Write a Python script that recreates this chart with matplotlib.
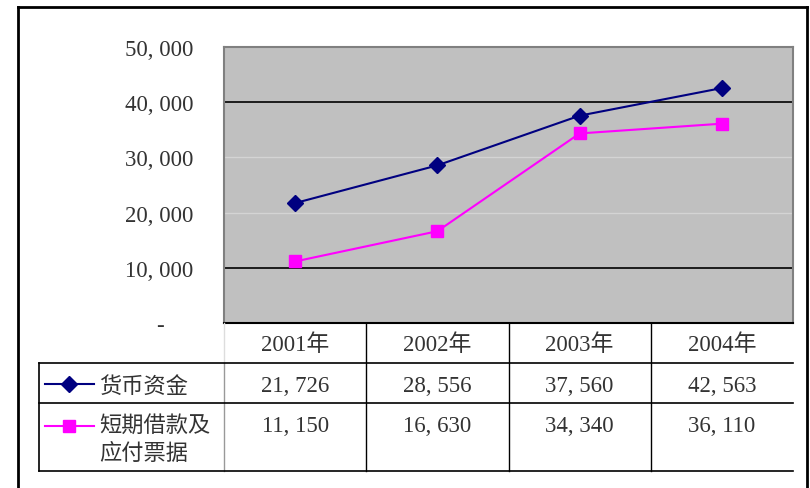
import matplotlib
matplotlib.use("Agg")
import matplotlib.pyplot as plt
from matplotlib.lines import Line2D
from matplotlib.transforms import blended_transform_factory

plt.rcParams['font.family'] = ['Liberation Serif', 'Noto Sans CJK SC', 'DejaVu Sans']

years = ["2001年", "2002年", "2003年", "2004年"]
cash = [21726, 28556, 37560, 42563]
loans = [11150, 16630, 34340, 36110]
series_names = ["货币资金", "短期借款及\n应付票据"]
yticks = [0, 10000, 20000, 30000, 40000, 50000]
ytick_labels = ["-     ", "10, 000", "20, 000", "30, 000", "40, 000", "50, 000"]

W, H = 810, 489
fig = plt.figure(figsize=(W / 100, H / 100), dpi=100)
txt = "#333333"


def fx(x):
    return x / W


def fy(y):
    return 1 - y / H


def hline(x0, x1, y, color="black", lw=1.0):
    fig.add_artist(Line2D([fx(x0), fx(x1)], [fy(y), fy(y)], color=color, lw=lw))


def vline(x, y0, y1, color="black", lw=1.0):
    fig.add_artist(Line2D([fx(x), fx(x)], [fy(y0), fy(y1)], color=color, lw=lw))


# plot area in pixels
L, R, T, B = 224, 793, 48, 324
ax = fig.add_axes([fx(L), fy(B), fx(R - L), (B - T) / H])
ax.set_facecolor("#c0c0c0")
x = list(range(len(years)))

for v in [20000, 30000]:
    ax.axhline(v, color="#d4d4d4", lw=1.0, zorder=1)
for v in [10000, 40000]:
    ax.axhline(v, color="black", lw=1.2, zorder=1)

ax.plot(x, cash, color="#000080", lw=1.5, marker="D", markersize=8, zorder=3)
ax.plot(x, loans, color="#ff00ff", lw=1.5, marker="s", markersize=8, zorder=3)

ax.set_xlim(-0.5, len(years) - 0.5)
ax.set_ylim(0, 50000)
ax.set_xticks([])
ax.set_yticks(yticks)
ax.set_yticklabels(ytick_labels, fontsize=16.5, color=txt)
ax.tick_params(axis="y", length=0, pad=22)
for side in ["top", "right", "left"]:
    ax.spines[side].set_color("#808080")
    ax.spines[side].set_linewidth(1.5)
ax.spines["bottom"].set_color("black")
ax.spines["bottom"].set_linewidth(1.5)

# outer frame
hline(18, 807, 8, lw=2)
vline(18, 8, 489, lw=2)
vline(807, 8, 489, lw=2)

# data table
tr = blended_transform_factory(ax.transData, fig.transFigure)
col_edges = [224, 366, 509, 651]
vline(224, 324, 364, color="#dddddd")
for cx in col_edges[1:]:
    vline(cx, 324, 472, lw=1.0)
vline(224, 364, 472, color="#999999")
vline(39, 364, 472, lw=1.2)
for y in [364, 404, 472]:
    hline(39, 793, y, lw=1.2)

for i, yr in enumerate(years):
    ax.text(i, fy(345), yr, transform=tr, ha="center", va="center", fontsize=16.5, color=txt)
    ax.text(i, fy(387), f"{cash[i]:,}".replace(",", ", "), transform=tr, ha="center",
            va="center", fontsize=16.5, color=txt)
    ax.text(i, fy(427), f"{loans[i]:,}".replace(",", ", "), transform=tr, ha="center",
            va="center", fontsize=16.5, color=txt)

# legend keys
fig.add_artist(Line2D([fx(45), fx(94)], [fy(385), fy(385)], color="#000080", lw=1.5))
fig.add_artist(Line2D([fx(69)], [fy(385)], color="#000080", marker="D", markersize=8))
fig.add_artist(Line2D([fx(45), fx(94)], [fy(427), fy(427)], color="#ff00ff", lw=1.5))
fig.add_artist(Line2D([fx(69)], [fy(427)], color="#ff00ff", marker="s", markersize=8))
fig.text(fx(99), fy(386), series_names[0], ha="left", va="center", fontsize=16,
         family=['Noto Sans CJK SC'], color=txt)
fig.text(fx(99), fy(414), series_names[1], ha="left", va="top", fontsize=16,
         family=['Noto Sans CJK SC'], color=txt, linespacing=1.3)

fig.savefig("out.png", dpi=100)
